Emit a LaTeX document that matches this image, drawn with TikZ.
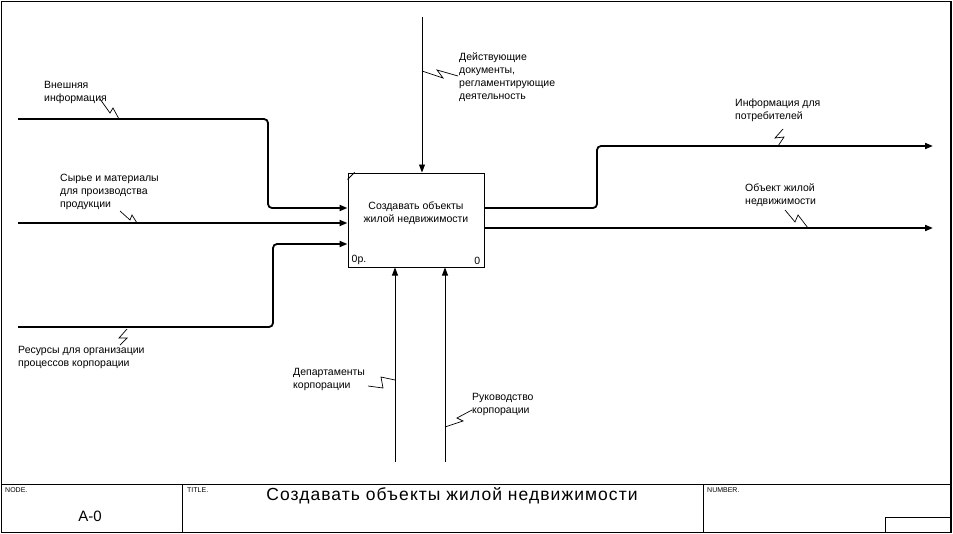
\documentclass[tikz,border=0pt]{standalone}
\usepackage{fontspec}
\setmainfont{Liberation Sans}
\usetikzlibrary{positioning, arrows.meta}

\begin{document}
\begin{tikzpicture}[x=1pt, y=-1pt, font=\fontsize{10.5}{13}\selectfont,
    lbl/.style={anchor=north west, align=left, inner sep=0pt},
    hdr/.style={anchor=north west, inner sep=0pt, font=\fontsize{7}{8}\selectfont},
    flow/.style={line width=1.8pt, rounded corners=4pt},
    ctrl/.style={line width=0.9pt},
    tip/.style={-{Triangle[length=8pt, width=6pt]}},
    zig/.style={line width=0.7pt}]
    \useasboundingbox (0,0) rectangle (953,533);
    % frame and title block
    \draw[line width=1pt] (1,1) rectangle (951,532);
    \draw[line width=2pt] (951,1) -- (951,532);
    \draw[line width=1pt] (1,484) -- (951,484);
    \draw[line width=1pt] (182,484) -- (182,532) (703,484) -- (703,532);
    \draw[line width=0.8pt] (885,517) rectangle (951,532);
    \node[hdr] (nodehd) at (5,487) {NODE.};
    \node[hdr] (titlehd) at (187,487) {TITLE.};
    \node[hdr] (numhd) at (707,487) {NUMBER.};
    \node[font=\fontsize{15}{15}\selectfont] (nodeid) at (90,516) {A-0};
    \node[font=\fontsize{17.5}{17.5}\selectfont\addfontfeatures{LetterSpace=6}] (titletxt) at (452,496) {Создавать объекты жилой недвижимости};

    % activity box
    \node[draw, line width=1pt, minimum width=136pt, minimum height=94pt, inner sep=0pt] (act) at (416,220) {};
    \node[align=center, inner sep=0pt] (actname) at (416,213) {Создавать объекты\\жилой недвижимости};
    \draw[line width=0.8pt] (act.north west) ++(0,7) -- ++(7,-7);
    \node[anchor=south west, inner sep=0pt] (actcost) at ([shift={(4pt,3pt)}]act.south west) {0р.};
    \node[anchor=south east, inner sep=0pt] (actnum) at ([shift={(-4pt,3pt)}]act.south east) {0};

    % free ends
    \coordinate (in1) at (18,119);
    \coordinate (in2) at (18,223);
    \coordinate (in3) at (18,327);
    \coordinate (out1) at (933,146);
    \coordinate (out2) at (933,228);
    \coordinate (ctl) at (422,17);
    \coordinate (mec1) at (395,462);
    \coordinate (mec2) at (445,462);

    % inputs
    \draw[flow, tip] (in1) -- (268,119) -- (268,208) -- (act.west |- 0,208);
    \draw[flow, tip] (in2) -- (act.west |- in2);
    \draw[flow, tip] (in3) -- (273,327) -- (273,244) -- (act.west |- 0,244);
    % outputs
    \draw[flow, tip] (act.east |- 0,208) -- (597,208) -- (597,146) -- (out1);
    \draw[flow, tip] (act.east |- out2) -- (out2);
    % control and mechanisms
    \draw[ctrl, tip] (ctl) -- (act.north -| ctl);
    \draw[ctrl, tip] (mec1) -- (act.south -| mec1);
    \draw[ctrl, tip] (mec2) -- (act.south -| mec2);

    % labels
    \node[lbl] (lin1) at (44,81) {Внешняя\\информация};
    \node[lbl] (lin2) at (60,174) {Сырье и материалы\\для производства\\продукции};
    \node[lbl] (lin3) at (18,346) {Ресурсы для организации\\процессов корпорации};
    \node[lbl] (lctl) at (459,53) {Действующие\\документы,\\регламентирующие\\деятельность};
    \node[lbl] (lout1) at (735,99) {Информация для\\потребителей};
    \node[lbl] (lout2) at (745,184) {Объект жилой\\недвижимости};
    \node[lbl] (lmec1) at (293,368) {Департаменты\\корпорации};
    \node[lbl] (lmec2) at (472,393) {Руководство\\корпорации};

    % squiggles
    \draw[zig] (100,99) -- (110,113) -- (113,108) -- (119,119);
    \draw[zig] (120,211) -- (130,220) -- (132,215) -- (137,223);
    \draw[zig] (127,329) -- (119,338) -- (127,338) -- (120,345);
    \draw[zig] (422,71) -- (443,78) -- (437,70) -- (458,76);
    \draw[zig] (783,129) -- (775,138) -- (784,137) -- (778,146);
    \draw[zig] (785,210) -- (795,222) -- (798,215) -- (808,228);
    \draw[zig] (395,380) -- (381,377) -- (383,388) -- (368,386);
    \draw[zig] (445,427) -- (463,421) -- (457,418) -- (472,410);
\end{tikzpicture}
\end{document}
